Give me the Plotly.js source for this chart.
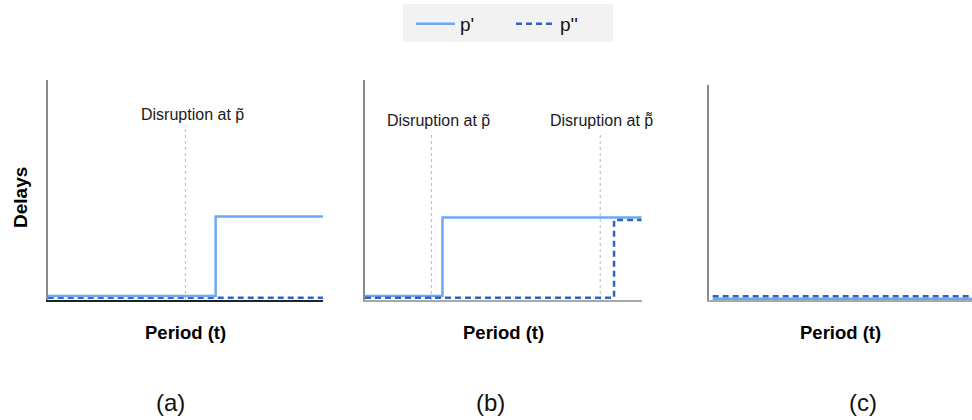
<!DOCTYPE html>
<html>
<head>
<meta charset="utf-8">
<script src="https://cdn.plot.ly/plotly-3.0.1.min.js"></script>
<style>
  html, body { margin: 0; padding: 0; background: #ffffff; }
  #chart { width: 972px; height: 420px; }
</style>
</head>
<body>
<div id="chart"></div>
<script>
// Delays over the period for the two paths p' and p'' in three scenarios.

// (a) one disruption at p~
const aPeriod = [0, 6.1, 10];
const aPrime = [0.18, 3.8, 3.8];
const aDoublePeriod = [0, 10];
const aDouble = [0.1, 0.1];
const aDisruptions = [5.0];

// (b) disruptions at p~ and p≈
const bPrimePeriod = [0, 2.8, 10];
const bPrime = [0.18, 3.75, 3.75];
const bDoublePeriod = [0, 9.0, 10];
const bDouble = [0.1, 3.64, 3.64];
const bDisruptions = [2.4, 8.5];

// (c) no disruption
const cPeriod = [0.14, 10];
const cPrime = [0.06, 0.06];
const cDouble = [0.17, 0.17];

const seriesNames = ["p'", "p''"];
const disruptionLabels = ["Disruption at p\u0303", "Disruption at p\u034C"];
const panelLabels = ["(a)", "(b)", "(c)"];
const xTitle = "Period (t)";
const yTitle = "Delays";

const primeColor = '#6aa9f4';
const doubleColor = '#2f62c2';
const font = '"Liberation Sans", Arial, sans-serif';

function primeTrace(x, y, xa, ya, legend) {
  return { x: x, y: y, xaxis: xa, yaxis: ya, type: 'scatter', mode: 'lines',
    name: seriesNames[0], showlegend: legend, legendrank: 1,
    line: { color: primeColor, width: 2.5, shape: 'hv' } };
}
function doubleTrace(x, y, xa, ya, legend) {
  return { x: x, y: y, xaxis: xa, yaxis: ya, type: 'scatter', mode: 'lines',
    name: seriesNames[1], showlegend: legend, legendrank: 2,
    line: { color: doubleColor, width: 2.5, shape: 'hv', dash: '6px,4px' } };
}

const data = [
  doubleTrace(aDoublePeriod, aDouble, 'x', 'y', false),
  primeTrace(aPeriod, aPrime, 'x', 'y', true),
  primeTrace(bPrimePeriod, bPrime, 'x2', 'y2', false),
  doubleTrace(bDoublePeriod, bDouble, 'x2', 'y2', true),
  primeTrace(cPeriod, cPrime, 'x3', 'y3', false),
  doubleTrace(cPeriod, cDouble, 'x3', 'y3', false)
];

function xAxis(domain, lineColor, anchor) {
  return { domain: domain, range: [0, 10], anchor: anchor, showline: true, linecolor: lineColor,
    linewidth: 1.5, showgrid: false, zeroline: false, showticklabels: false, ticks: '', fixedrange: true };
}
function yAxis(domain, anchor) {
  return { domain: domain, range: [0, 10], anchor: anchor, showline: true, linecolor: '#8a8a8a',
    linewidth: 2, showgrid: false, zeroline: false, showticklabels: false, ticks: '', fixedrange: true };
}

// Grey panel behind the legend
const shapes = [{
  type: 'rect', xref: 'paper', yref: 'paper', x0: 403 / 972, x1: 613 / 972,
  y0: 1 - 42 / 420, y1: 1 - 4 / 420, fillcolor: '#f2f2f2', line: { width: 0 }, layer: 'below'
}];

// Dotted markers for the disruption periods
function addDisruption(x, xa, ya, top) {
  shapes.push({ type: 'line', xref: xa, yref: ya + ' domain', x0: x, x1: x, y0: 0, y1: top,
    layer: 'below', line: { color: '#b8b8b8', width: 1, dash: 'dot' } });
}
addDisruption(aDisruptions[0], 'x', 'y', 0.795);
addDisruption(bDisruptions[0], 'x2', 'y2', 0.765);
addDisruption(bDisruptions[1], 'x2', 'y2', 0.765);

const annotations = [];
function addLabel(text, x, xa, ya, y, shift) {
  annotations.push({ text: text, xref: xa, yref: ya + ' domain', x: x, y: y, xshift: shift,
    xanchor: 'center', yanchor: 'middle', showarrow: false,
    font: { family: font, size: 16, color: '#1a1a1a' } });
}
addLabel(disruptionLabels[0], aDisruptions[0], 'x', 'y', 0.841, 7);
addLabel(disruptionLabels[0], bDisruptions[0], 'x2', 'y2', 0.815, 7);
addLabel(disruptionLabels[1], bDisruptions[1], 'x2', 'y2', 0.815, 1);

// Axis titles under each panel
const xCenters = [0.1907, 0.5178, 0.8647];
xCenters.forEach(function (cx) {
  annotations.push({ text: '<b>' + xTitle + '</b>', xref: 'paper', yref: 'paper', x: cx,
    y: 1 - 332 / 420, xanchor: 'center', yanchor: 'middle', showarrow: false,
    font: { family: font, size: 18.5, color: '#000000' } });
});
annotations.push({ text: '<b>' + yTitle + '</b>', xref: 'paper', yref: 'paper', x: 20 / 972,
  y: 1 - 198 / 420, xanchor: 'center', yanchor: 'middle', textangle: -90, showarrow: false,
  font: { family: font, size: 19, color: '#000000' } });

// Panel captions
const captionX = [170, 490, 863];
panelLabels.forEach(function (t, i) {
  annotations.push({ text: t, xref: 'paper', yref: 'paper', x: captionX[i] / 972,
    y: 1 - 402 / 420, xanchor: 'center', yanchor: 'middle', showarrow: false,
    font: { family: font, size: 24, color: '#111111' } });
});

const layout = {
  width: 972, height: 420,
  margin: { l: 0, r: 0, t: 0, b: 0 },
  paper_bgcolor: '#ffffff', plot_bgcolor: '#ffffff',
  font: { family: font },
  showlegend: true,
  legend: {
    orientation: 'h', x: 411 / 972, xanchor: 'left', y: 1 - 5 / 420, yanchor: 'top',
    bgcolor: 'rgba(0,0,0,0)', borderwidth: 0, entrywidth: 46, itemwidth: 39,
    font: { family: font, size: 19, color: '#111111' }, traceorder: 'normal'
  },
  xaxis: xAxis([0.0491, 0.3323], '#222222', 'y'),
  yaxis: yAxis([0.2857, 0.8095], 'x'),
  xaxis2: xAxis([0.3755, 0.6602], '#a8a8a8', 'y2'),
  yaxis2: yAxis([0.2857, 0.8095], 'x2'),
  xaxis3: xAxis([0.7294, 1.0], '#a8a8a8', 'y3'),
  yaxis3: yAxis([0.2857, 0.7976], 'x3'),
  shapes: shapes,
  annotations: annotations,
  hovermode: false
};

Plotly.newPlot('chart', data, layout, { staticPlot: true, displayModeBar: false });
</script>
</body>
</html>
